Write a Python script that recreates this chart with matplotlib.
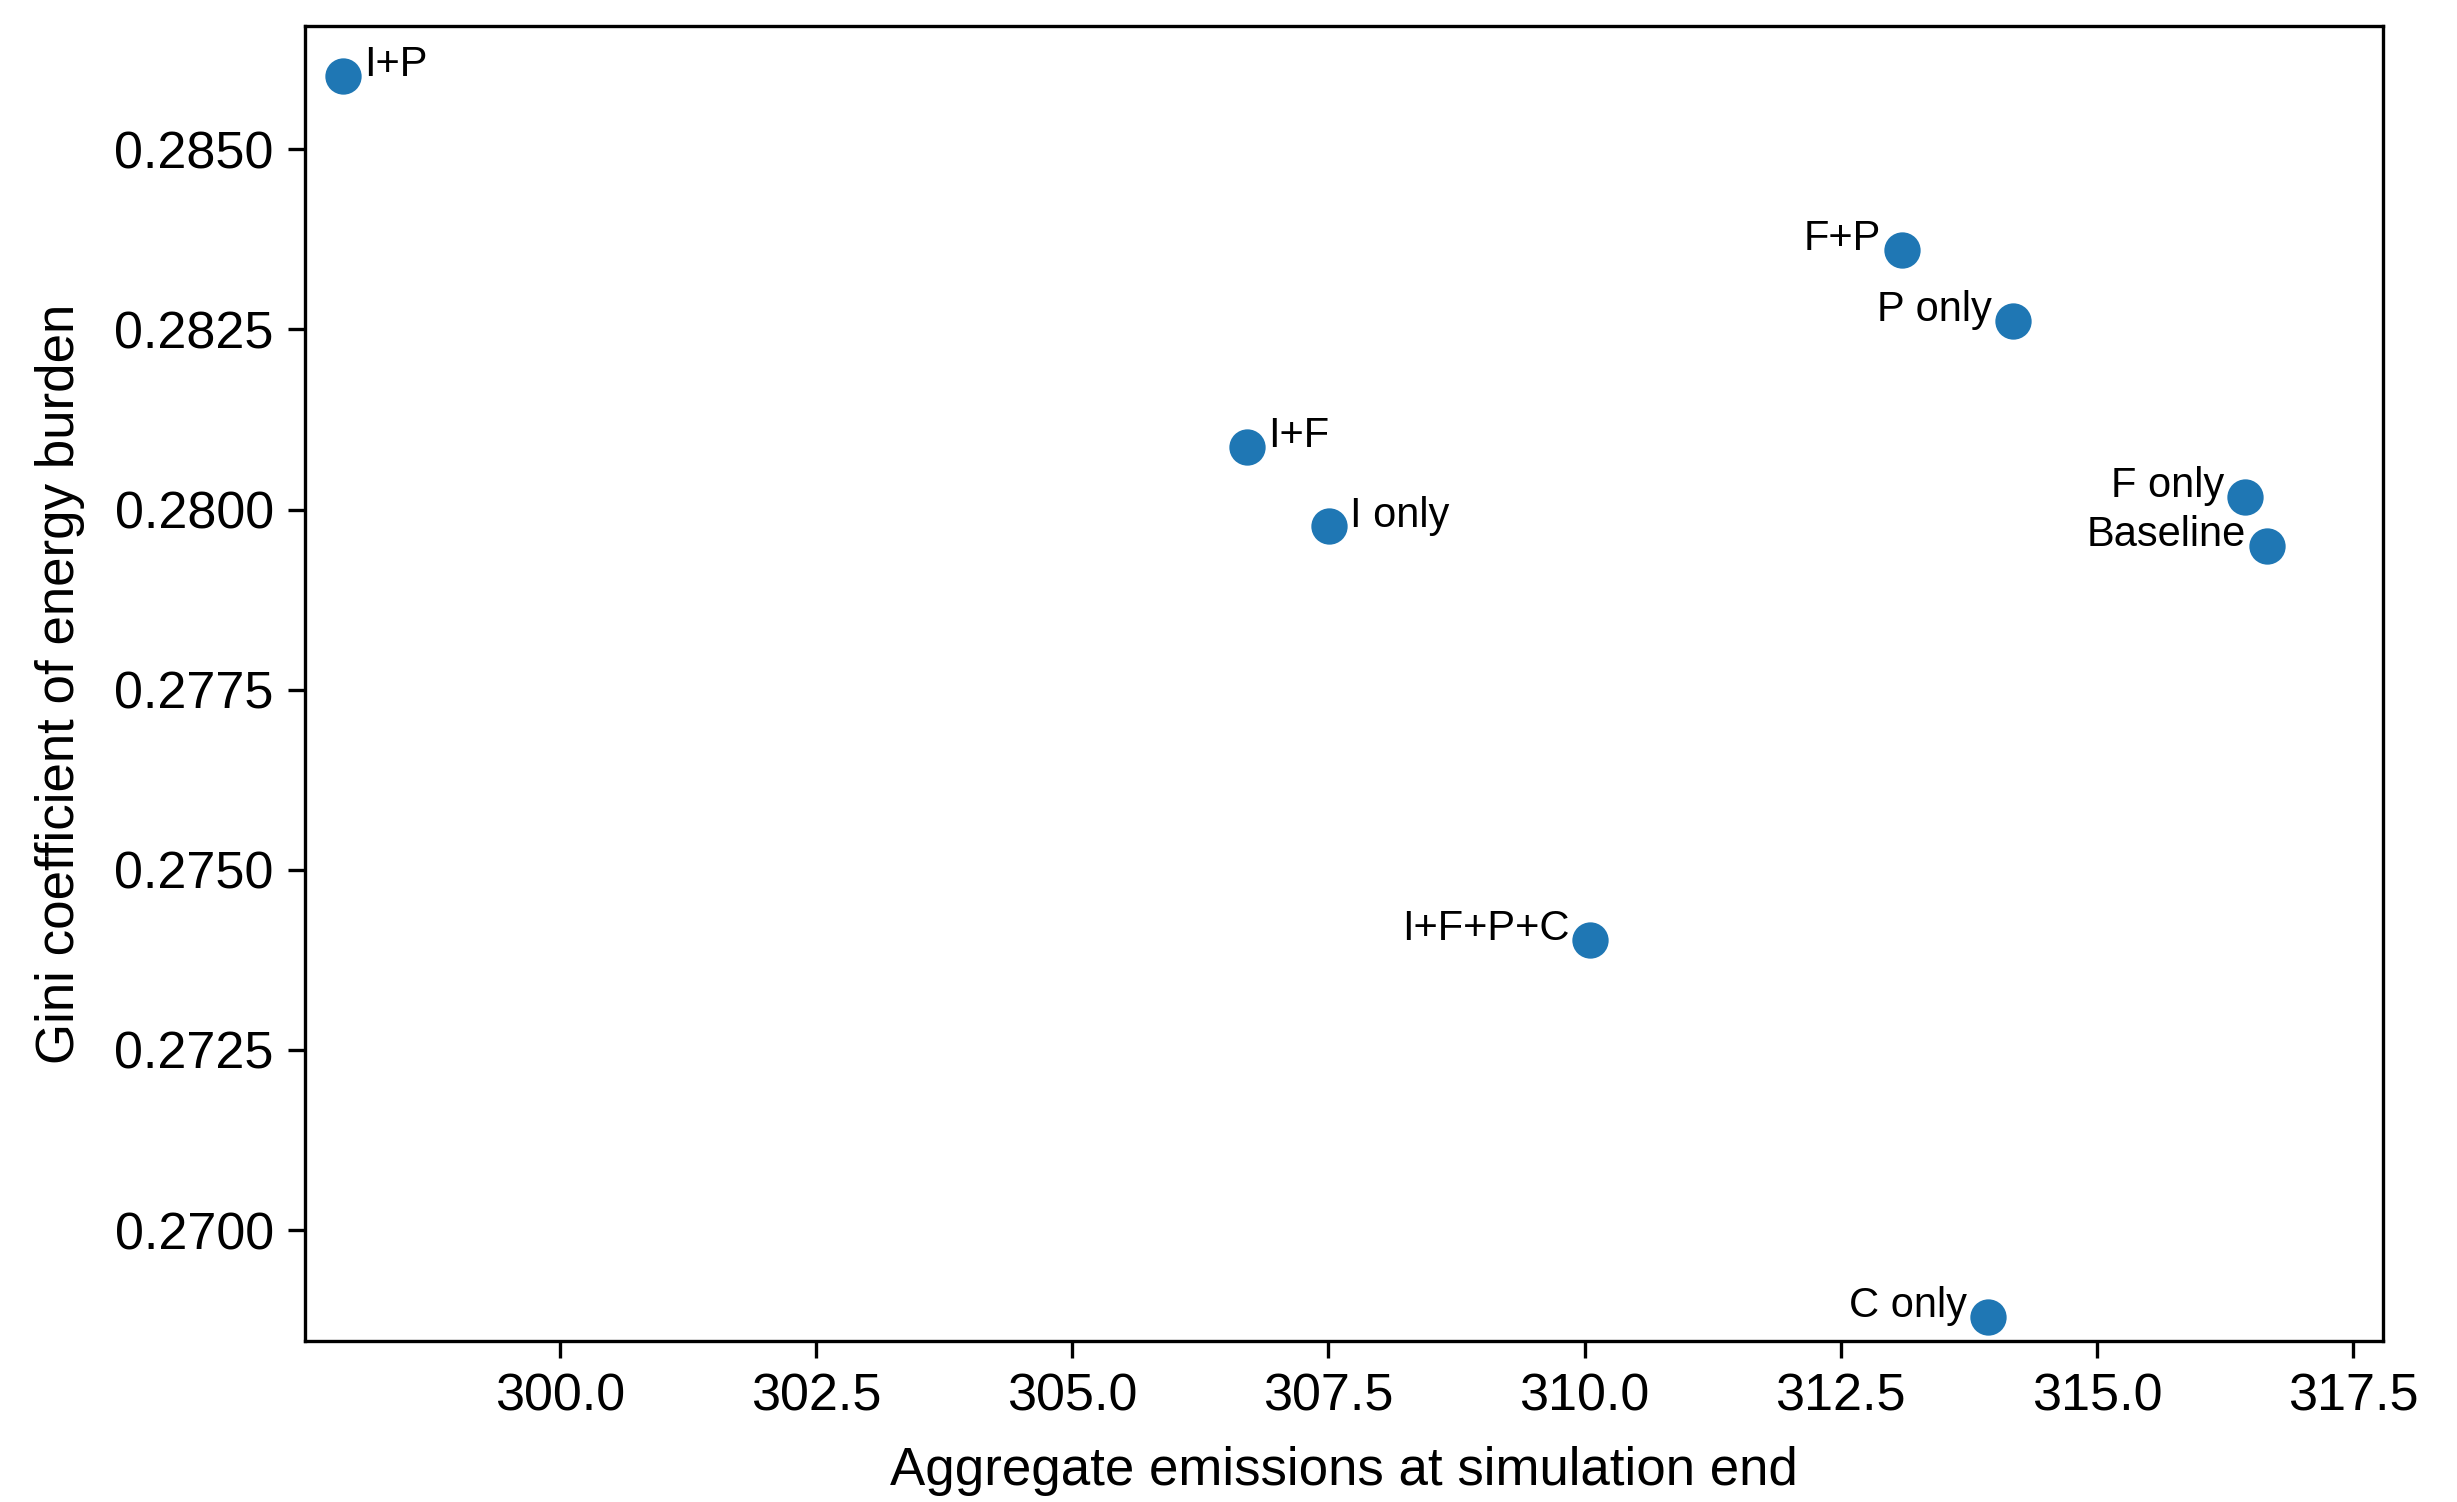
import matplotlib
matplotlib.use("Agg")
import matplotlib.pyplot as plt

plt.rcParams['font.family'] = ['Liberation Sans', 'DejaVu Sans']

# scenarios: aggregate emissions vs gini of energy burden
labels = ["I+P", "F+P", "P only", "F only", "Baseline",
          "I+F", "I only", "I+F+P+C", "C only"]
emissions = [297.882, 313.098, 314.181, 316.445, 316.660,
             306.705, 307.505, 310.053, 313.937]
gini = [0.286020, 0.283605, 0.282619, 0.280176, 0.279496,
        0.280870, 0.279766, 0.274026, 0.268792]
# which side the label goes on
side = ["right", "left", "left", "left", "left",
        "right", "right", "left", "left"]

fig = plt.figure(figsize=(8.19, 5.007), dpi=300)
ax = fig.add_axes([0.1241, 0.1072, 0.9699 - 0.1241, 0.9827 - 0.1072])

ax.scatter(emissions, gini, s=76, color='#1f77b4', linewidths=0, zorder=3)

for lab, x, y, sd in zip(labels, emissions, gini, side):
    if sd == "right":
        ax.annotate(lab, (x, y), xytext=(5, 0), textcoords='offset points',
                    ha='left', va='baseline', fontsize=10)
    else:
        ax.annotate(lab, (x, y), xytext=(-5, 0), textcoords='offset points',
                    ha='right', va='baseline', fontsize=10)

ax.set_xlim(297.511, 317.793)
ax.set_ylim(0.268459, 0.286714)
ax.set_xticks([300.0, 302.5, 305.0, 307.5, 310.0, 312.5, 315.0, 317.5])
ax.set_yticks([0.2700, 0.2725, 0.2750, 0.2775, 0.2800, 0.2825, 0.2850])
ax.ticklabel_format(useOffset=False)
ax.tick_params(labelsize=12.5, length=4)

ax.set_xlabel('Aggregate emissions at simulation end', fontsize=12.7, labelpad=6)
ax.set_ylabel('Gini coefficient of energy burden', fontsize=12.7, labelpad=7)

fig.savefig('out.png', dpi=300)
